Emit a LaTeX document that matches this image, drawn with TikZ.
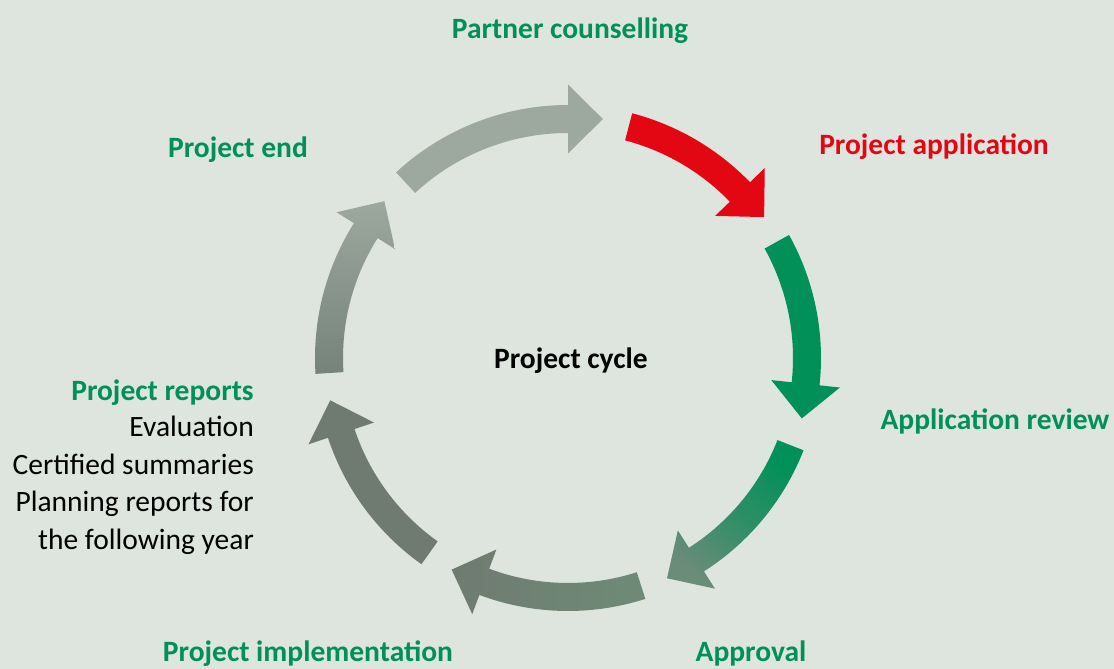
\documentclass[tikz,border=0pt]{standalone}
\usepackage{fontspec}
\setmainfont{Carlito}
\usetikzlibrary{calc}
\definecolor{bgc}{HTML}{DEE5DE}
\definecolor{cgreen}{HTML}{009058}
\definecolor{cred}{HTML}{E30613}
\definecolor{gA}{HTML}{9DA89F}
\definecolor{gB}{HTML}{75837A}
\definecolor{gC}{HTML}{6F7B70}
\definecolor{gD}{HTML}{6E8B77}
\definecolor{gE}{HTML}{6A8C78}
\newcommand\cycarrow[3]{%
  \path[#3] ($(c)+(#1:253pt)$) arc[start angle=#1, end angle=#2, radius=253pt]
    -- ($(c)+(#2:273.5pt)$) -- ($(c)+(#2-8.3:241.5pt)$) -- ($(c)+(#2:204.5pt)$)
    -- ($(c)+(#2:225pt)$) arc[start angle=#2, end angle=#1, radius=225pt] -- cycle;}
\tikzset{
  lbl/.style={font=\fontsize{29.5}{37}\selectfont\bfseries, text=cgreen, inner sep=0pt, anchor=base},
  plain/.style={font=\fontsize{29.5}{37}\selectfont, text=black, inner sep=0pt, anchor=base east},
}
\begin{document}
\begin{tikzpicture}[x=1pt,y=1pt]
\fill[bgc] (0,0) rectangle (1114,669);
\useasboundingbox (0,0) rectangle (1114,669);
\coordinate (c) at (568,311);
% arrows (clockwise)
\cycarrow{132.8}{90}{fill=gA}
\cycarrow{75.3}{44}{fill=cred}
\cycarrow{29.1}{-6.2}{fill=cgreen}
\cycarrow{-21.4}{-57.5}{top color=cgreen, bottom color=gE, middle color=cgreen!55!gE, shading angle=-40}
\cycarrow{-72.2}{-110.5}{left color=gC, right color=gD}
\cycarrow{-125.4}{-161.6}{fill=gC}
\cycarrow{-176.4}{-212.2}{top color=gA, bottom color=gB}
% labels
\node[lbl] (pc) at (570,630) {Partner counselling};
\node[lbl, text=cred] (pa) at (934,514) {Project application};
\node[lbl] (pe) at (238,511) {Project end};
\node[lbl] (ar) at (995,239) {Application review};
\node[lbl] (ap) at (751,7) {Approval};
\node[lbl] (pi) at (308,7) {Project implementation};
\node[lbl, text=black] (cy) at (571,300) {Project cycle};
\node[lbl, anchor=base east] (pr) at (254,268) {Project reports};
\node[plain] (ev) at (254,232) {Evaluation};
\node[plain] (cs) at (254,194) {Certified summaries};
\node[plain] (pl) at (254,157) {Planning reports for};
\node[plain] (fy) at (254,119) {the following year};
\end{tikzpicture}
\end{document}
